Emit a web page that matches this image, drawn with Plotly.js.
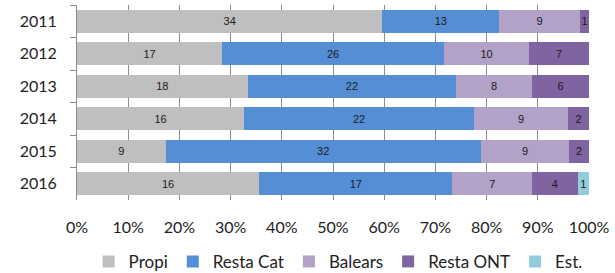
<!DOCTYPE html>
<html>
<head>
<meta charset="utf-8">
<script src="https://cdn.plot.ly/plotly-3.0.1.min.js"></script>
<style>html,body{margin:0;padding:0;background:#fff;}#chart{width:615px;height:273px;}</style>
</head>
<body>
<div id="chart"></div>
<script>
const years = ['2011', '2012', '2013', '2014', '2015', '2016'];
const seriesNames = ['Propi', 'Resta Cat', 'Balears', 'Resta ONT', 'Est.'];
const propi    = [34, 17, 18, 16, 9, 16];
const restaCat = [13, 26, 22, 22, 32, 17];
const balears  = [9, 10, 8, 9, 9, 7];
const restaONT = [1, 7, 6, 2, 2, 4];
const est      = [0, 0, 0, 0, 0, 1];
const colors = ['#bfbfbf', '#558ed5', '#b3a2c7', '#8064a2', '#93cddd'];
const xTickVals = [0, 10, 20, 30, 40, 50, 60, 70, 80, 90, 100];
const xTickText = ['0%', '10%', '20%', '30%', '40%', '50%', '60%', '70%', '80%', '90%', '100%'];

const allSeries = [propi, restaCat, balears, restaONT, est];
const traces = allSeries.map((vals, i) => ({
  type: 'bar',
  orientation: 'h',
  name: seriesNames[i],
  y: years,
  x: vals,
  text: vals.map(v => v === 0 ? '' : String(v)),
  textposition: 'inside',
  insidetextanchor: 'middle',
  textangle: 0,
  textfont: {family: 'Liberation Sans, Arial, sans-serif', size: 11, color: '#1a1a1a'},
  marker: {color: colors[i], line: {width: 0}},
  hoverinfo: 'none'
}));

const layout = {
  width: 615, height: 273,
  margin: {l: 77, r: 26, t: 5, b: 73, pad: 0, autoexpand: false},
  paper_bgcolor: '#ffffff', plot_bgcolor: '#ffffff',
  barmode: 'stack', barnorm: 'percent', bargap: 0.28,
  uniformtext: {mode: 'show', minsize: 11},
  font: {family: 'Lato, sans-serif', size: 16, color: '#222222'},
  xaxis: {
    range: [0, 100], tickvals: xTickVals, ticktext: xTickText,
    showgrid: true, gridcolor: '#8c8c8c', gridwidth: 1,
    zeroline: false, showline: false, ticks: '',
    ticklabelstandoff: 16, automargin: false,
    tickfont: {family: 'Lato, sans-serif', size: 16, color: '#222222'},
    fixedrange: true
  },
  yaxis: {
    autorange: 'reversed', type: 'category',
    showline: true, linecolor: '#8c8c8c', linewidth: 1,
    ticks: 'outside', tickson: 'boundaries', ticklen: 6, tickcolor: '#8c8c8c',
    ticklabelstandoff: 16, automargin: false,
    showgrid: false, zeroline: false,
    tickfont: {family: 'Lato, sans-serif', size: 16, color: '#222222'},
    fixedrange: true
  },
  showlegend: true,
  legend: {
    orientation: 'h', x: 0.51, xanchor: 'center', y: -0.225, yanchor: 'top',
    font: {family: 'Lato, sans-serif', size: 17, color: '#222222'},
    itemwidth: 30, traceorder: 'normal', bgcolor: 'rgba(0,0,0,0)'
  }
};

Plotly.newPlot('chart', traces, layout, {displayModeBar: false, staticPlot: true});
</script>
</body>
</html>
